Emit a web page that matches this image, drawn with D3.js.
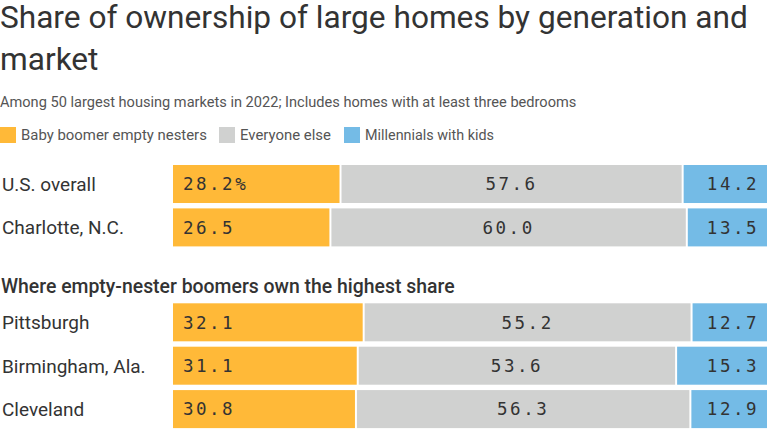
<!DOCTYPE html>
<html><head><meta charset="utf-8">
<script src="https://cdn.jsdelivr.net/npm/d3@7"></script>
<style>
html,body{margin:0;padding:0;background:#fff;}
svg{display:block;}
</style></head>
<body>
<svg id="chart" width="768" height="432"></svg>
<script>
const seriesNames = ["Baby boomer empty nesters", "Everyone else", "Millennials with kids"];
const seriesColors = ["#ffb938", "#d0d1d0", "#74bbe6"];

const group1Markets = ["U.S. overall", "Charlotte, N.C."];
const group1Boomers = [28.2, 26.5];
const group1Else = [57.6, 60.0];
const group1Millennials = [14.2, 13.5];

const group2Title = "Where empty-nester boomers own the highest share";
const group2Markets = ["Pittsburgh", "Birmingham, Ala.", "Cleveland"];
const group2Boomers = [32.1, 31.1, 30.8];
const group2Else = [55.2, 53.6, 56.3];
const group2Millennials = [12.7, 15.3, 12.9];

const titleLines = ["Share of ownership of large homes by generation and", "market"];
const subtitle = "Among 50 largest housing markets in 2022; Includes homes with at least three bedrooms";

const svg = d3.select("#chart");
const textColor = "#333";
const sans = "Roboto, 'Liberation Sans', sans-serif";
const mono = "'DejaVu Sans Mono', 'Liberation Mono', monospace";

// Fit text to a target width by adjusting font-size
function fitWidth(sel, target) {
  const w = sel.node().getComputedTextLength();
  const fs = parseFloat(sel.attr("font-size"));
  sel.attr("font-size", fs * target / w);
}

// Title
const t1 = svg.append("text").attr("x", 0).attr("y", 28).attr("font-family", sans)
  .attr("font-size", 30).attr("fill", textColor).text(titleLines[0]);
fitWidth(t1, 748);
svg.append("text").attr("x", 0).attr("y", 70).attr("font-family", sans)
  .attr("font-size", t1.attr("font-size")).attr("fill", textColor).text(titleLines[1]);

// Subtitle
const st = svg.append("text").attr("x", 0).attr("y", 107).attr("font-family", sans)
  .attr("font-size", 14).attr("fill", "#555").text(subtitle);
fitWidth(st, 577);

// Legend
const legendX = [0, 219, 344];
const legendTextEnd = [207, 331, 494];
seriesNames.forEach((name, i) => {
  svg.append("rect").attr("x", legendX[i]).attr("y", 127).attr("width", 16).attr("height", 16)
    .attr("fill", seriesColors[i]);
  const lt = svg.append("text").attr("x", legendX[i] + 21).attr("y", 140).attr("font-family", sans)
    .attr("font-size", 14).attr("fill", "#555").text(name);
  fitWidth(lt, legendTextEnd[i] - legendX[i] - 21);
});

// Scales
const x = d3.scaleLinear().domain([0, 100]).range([173, 767]);

function drawGroup(markets, boomers, others, millennials, yRange, withPercent) {
  const y = d3.scaleBand().domain(markets).range(yRange).paddingInner(0.124).paddingOuter(0);
  const rows = markets.map((m, i) => {
    const vals = [boomers[i], others[i], millennials[i]];
    let acc = 0;
    const segs = vals.map((v, k) => { const s = {k, v, start: acc, end: acc + v, market: m, row: i}; acc += v; return s; });
    return {market: m, segs};
  });
  const g = svg.append("g");
  const row = g.selectAll("g.row").data(rows).join("g").attr("class", "row");
  row.append("text")
    .attr("x", 2).attr("y", d => y(d.market) + y.bandwidth() / 2)
    .attr("dy", "0.36em")
    .attr("font-family", sans).attr("font-size", 19).attr("fill", textColor)
    .text(d => d.market);
  const seg = row.selectAll("g.seg").data(d => d.segs).join("g").attr("class", "seg");
  seg.append("rect")
    .attr("x", d => x(d.start) + (d.start > 0 ? 1 : 0))
    .attr("width", d => x(d.end) - x(d.start) - (d.start > 0 ? 1 : 0) - (d.end < 99.95 ? 1 : 0))
    .attr("y", d => y(d.market))
    .attr("height", y.bandwidth())
    .attr("fill", d => seriesColors[d.k]);
  seg.append("text")
    .attr("x", d => d.k === 0 ? x(d.start) + 10 : d.k === 1 ? (x(d.start) + x(d.end)) / 2 : x(d.end) - 8)
    .attr("text-anchor", d => d.k === 0 ? "start" : d.k === 1 ? "middle" : "end")
    .attr("y", d => y(d.market) + y.bandwidth() / 2)
    .attr("dy", "0.36em")
    .attr("font-family", mono).attr("font-size", 17.5).attr("letter-spacing", "2.5px")
    .attr("fill", textColor)
    .text(d => d.v.toFixed(1) + (withPercent && d.row === 0 && d.k === 0 ? "%" : ""));
  return g;
}

drawGroup(group1Markets, group1Boomers, group1Else, group1Millennials, [165, 246.4], true);

const hdr = svg.append("text").attr("x", 1).attr("y", 293).attr("font-family", sans)
  .attr("font-size", 18).attr("font-weight", 500).attr("fill", textColor).text(group2Title);
fitWidth(hdr, 454);

drawGroup(group2Markets, group2Boomers, group2Else, group2Millennials, [303.3, 428.1], false);
</script>
</body></html>
